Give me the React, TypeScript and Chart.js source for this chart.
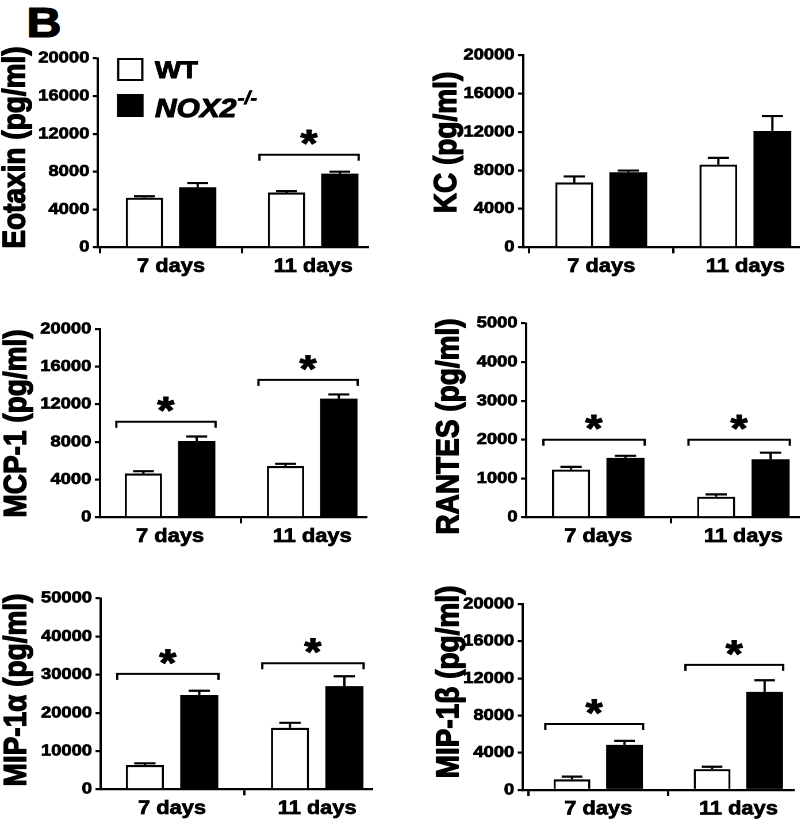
import React, { useEffect, useRef } from 'react';
import { Chart, registerables } from 'chart.js';

Chart.register(...registerables);

// ---------------- data ----------------
const categories = ['7 days', '11 days'];
const seriesLabels = ['WT', 'NOX2-/-'];

const eotaxinWT = [5250, 5800];
const eotaxinWTErr = [150, 150];
const eotaxinKO = [6350, 7800];
const eotaxinKOErr = [450, 200];
const eotaxinSig = [null, 9800];

const kcWT = [6750, 8600];
const kcWTErr = [620, 700];
const kcKO = [7800, 12100];
const kcKOErr = [180, 1550];
const kcSig = [null, null];

const mcp1WT = [4650, 5450];
const mcp1WTErr = [250, 230];
const mcp1KO = [8100, 12600];
const mcp1KOErr = [480, 450];
const mcp1Sig = [10150, 14600];

const rantesWT = [1230, 530];
const rantesWTErr = [70, 60];
const rantesKO = [1530, 1495];
const rantesKOErr = [55, 170];
const rantesSig = [2000, 2000];

const mip1aWT = [6350, 16100];
const mip1aWTErr = [450, 1300];
const mip1aKO = [24700, 27000];
const mip1aKOErr = [1100, 2600];
const mip1aSig = [30200, 33000];

const mip1bWT = [1150, 2250];
const mip1bWTErr = [290, 250];
const mip1bKO = [4850, 10550];
const mip1bKOErr = [430, 1250];
const mip1bSig = [7100, 13450];

const yTitles = ['Eotaxin (pg/ml)', 'KC (pg/ml)', 'MCP-1 (pg/ml)', 'RANTES (pg/ml)', 'MIP-1α (pg/ml)', 'MIP-1β (pg/ml)'];
const yMaxima = [20000, 20000, 20000, 5000, 50000, 20000];
const yTickSteps = [4000, 4000, 4000, 1000, 10000, 4000];

const panels = [
  { means: [eotaxinWT, eotaxinKO], errs: [eotaxinWTErr, eotaxinKOErr], sig: eotaxinSig },
  { means: [kcWT, kcKO], errs: [kcWTErr, kcKOErr], sig: kcSig },
  { means: [mcp1WT, mcp1KO], errs: [mcp1WTErr, mcp1KOErr], sig: mcp1Sig },
  { means: [rantesWT, rantesKO], errs: [rantesWTErr, rantesKOErr], sig: rantesSig },
  { means: [mip1aWT, mip1aKO], errs: [mip1aWTErr, mip1aKOErr], sig: mip1aSig },
  { means: [mip1bWT, mip1bKO], errs: [mip1bWTErr, mip1bKOErr], sig: mip1bSig },
];

// ---------------- layout & style ----------------
const S = 1.15; // horizontal stretch of the whole figure
const FONT = '"Liberation Sans", Arial, Helvetica, sans-serif';
const barColors = ['#ffffff', '#000000'];
const TEXT_STROKE = 0.7;

type Layout = {
  cx: number; cy: number; cw: number; ch: number;
  axisX: number; top: number; zero: number; right: number;
  c7: number; c11: number; titleBase: number; titleY: number;
};

// all values in page pixels
const layouts: Layout[] = [
  { cx: 0, cy: 0, cw: 400, ch: 290, axisX: 98, top: 58.3, zero: 247.3, right: 368, c7: 171, c11: 313, titleBase: 25, titleY: 147.5 },
  { cx: 400, cy: 0, cw: 400, ch: 290, axisX: 523, top: 55, zero: 247.3, right: 800, c7: 601, c11: 745, titleBase: 456, titleY: 142.5 },
  { cx: 0, cy: 290, cw: 400, ch: 270, axisX: 100, top: 329, zero: 517.3, right: 366, c7: 170, c11: 312, titleBase: 26, titleY: 423.5 },
  { cx: 400, cy: 290, cw: 400, ch: 270, axisX: 526, top: 323.3, zero: 517.3, right: 800, c7: 598, c11: 743, titleBase: 458, titleY: 426.5 },
  { cx: 0, cy: 560, cw: 400, ch: 265, axisX: 100.7, top: 598.3, zero: 789.3, right: 372, c7: 172, c11: 317, titleBase: 26, titleY: 690 },
  { cx: 400, cy: 560, cw: 400, ch: 265, axisX: 522.7, top: 604, zero: 790, right: 793, c7: 598, c11: 738, titleBase: 458, titleY: 682 },
];

function boldText(ctx: CanvasRenderingContext2D, text: string, x: number, y: number, stroke: number) {
  ctx.fillText(text, x, y);
  if (stroke > 0) {
    ctx.lineWidth = stroke;
    ctx.strokeStyle = '#000';
    ctx.lineJoin = 'round';
    ctx.strokeText(text, x, y);
  }
}

function drawStar(ctx: CanvasRenderingContext2D, cx: number, cy: number) {
  ctx.save();
  ctx.font = `bold 38px ${FONT}`;
  ctx.fillStyle = '#000';
  ctx.textAlign = 'left';
  ctx.textBaseline = 'alphabetic';
  const m = ctx.measureText('*');
  const x = cx - (m.actualBoundingBoxRight - m.actualBoundingBoxLeft) / 2;
  const y = cy + (m.actualBoundingBoxAscent - m.actualBoundingBoxDescent) / 2;
  boldText(ctx, '*', x, y, 1);
  ctx.restore();
}

function makeConfig(index: number): any {
  const L = layouts[index];
  const P = panels[index];
  const spacing = L.c11 - L.c7;
  const xMin = 1 - (L.c7 - L.axisX) / spacing;
  const xMax = 2 + (L.right - L.c11) / spacing;

  const extras = {
    id: 'panelExtras',
    afterDatasetsDraw(chart: any) {
      const ctx: CanvasRenderingContext2D = chart.ctx;
      const xS = chart.scales.x;
      const yS = chart.scales.y;
      ctx.save();
      ctx.strokeStyle = '#000';
      // error bars (upper only)
      P.means.forEach((vals, d) => {
        const meta = chart.getDatasetMeta(d);
        meta.data.forEach((bar: any, i: number) => {
          const p = bar.getProps(['x', 'y', 'width'], true);
          const yTop = yS.getPixelForValue(vals[i] + P.errs[d][i]);
          const hw = p.width * 0.28;
          ctx.lineWidth = 2;
          ctx.beginPath();
          ctx.moveTo(p.x, p.y);
          ctx.lineTo(p.x, yTop);
          ctx.stroke();
          ctx.lineWidth = 2.2;
          ctx.beginPath();
          ctx.moveTo(p.x - hw, yTop);
          ctx.lineTo(p.x + hw, yTop);
          ctx.stroke();
        });
      });
      // significance brackets
      P.sig.forEach((val, i) => {
        if (val == null) return;
        const pos = i + 1;
        const x1 = xS.getPixelForValue(pos - 0.378);
        const x2 = xS.getPixelForValue(pos + 0.32);
        const y = yS.getPixelForValue(val);
        ctx.lineWidth = 2;
        ctx.beginPath();
        ctx.moveTo(x1, y + 6);
        ctx.lineTo(x1, y);
        ctx.lineTo(x2, y);
        ctx.lineTo(x2, y + 6);
        ctx.stroke();
        drawStar(ctx, (x1 + x2) / 2, y - 18);
      });
      ctx.restore();
    },
    afterDraw(chart: any) {
      const ctx: CanvasRenderingContext2D = chart.ctx;
      ctx.save();
      // y-axis title
      ctx.font = `bold 28px ${FONT}`;
      ctx.fillStyle = '#000';
      ctx.textAlign = 'center';
      ctx.textBaseline = 'alphabetic';
      ctx.translate((L.titleBase - L.cx) / S, L.titleY - L.cy);
      ctx.rotate(-Math.PI / 2);
      boldText(ctx, yTitles[index], 0, 0, 1.1);
      ctx.restore();

      if (index === 0) {
        // legend
        const boxX = (117 - L.cx) / S;
        const boxW = 23;
        const boxH = 23;
        const rowTops = [58, 94];
        const baselines = [78, 117];
        const textX = (155 - L.cx) / S;
        chart.data.datasets.forEach((ds: any, d: number) => {
          ctx.save();
          const ty = rowTops[d] - L.cy;
          ctx.fillStyle = ds.backgroundColor;
          ctx.fillRect(boxX, ty, boxW, boxH);
          ctx.strokeStyle = '#000';
          ctx.lineWidth = 2;
          ctx.strokeRect(boxX + 1, ty + 1, boxW - 2, boxH - 2);
          ctx.fillStyle = '#000';
          ctx.textAlign = 'left';
          ctx.textBaseline = 'alphabetic';
          const label: string = ds.label;
          const m = label.match(/^(.*?)(-\/-)$/);
          const by = baselines[d] - L.cy;
          if (m) {
            ctx.font = `italic bold 26px ${FONT}`;
            boldText(ctx, m[1], textX, by, 1);
            const w = ctx.measureText(m[1]).width;
            ctx.font = `italic bold 18px ${FONT}`;
            boldText(ctx, m[2], textX + w + 1, by - 13, 0.7);
          } else {
            ctx.font = `bold 24px ${FONT}`;
            boldText(ctx, label, textX, by, 1);
          }
          ctx.restore();
        });
      }
    },
  };

  return {
    type: 'bar',
    data: {
      datasets: P.means.map((vals, d) => ({
        label: seriesLabels[d],
        data: vals.map((v, i) => ({ x: i + 1, y: v })),
        backgroundColor: barColors[d],
        borderColor: '#000',
        borderWidth: d === 0 ? { left: 1.9, right: 1.9, top: 2.2, bottom: 0 } : 0,
        borderSkipped: 'start',
        categoryPercentage: 0.75,
        barPercentage: 0.7,
      })),
    },
    options: {
      animation: false,
      responsive: false,
      devicePixelRatio: 2,
      events: [],
      layout: { padding: { left: 0, top: L.top - L.cy, right: (L.cx + L.cw - L.right) / S, bottom: 0 } },
      plugins: { legend: { display: false }, tooltip: { enabled: false }, title: { display: false } },
      scales: {
        x: {
          type: 'linear',
          min: xMin,
          max: xMax,
          offset: false,
          afterFit: (s: any) => { s.height = L.cy + L.ch - L.zero; },
          afterBuildTicks: (s: any) => { s.ticks = categories.map((_, i) => ({ value: i + 1 })); },
          ticks: {
            color: '#000',
            font: { family: FONT, size: 19, weight: 'bold' },
            padding: 2,
            autoSkip: false,
            maxRotation: 0,
            textStrokeColor: '#000',
            textStrokeWidth: TEXT_STROKE,
            callback: (_v: any, i: number) => categories[i],
          },
          grid: { display: true, drawOnChartArea: false, drawTicks: true, tickLength: 6, color: '#000', lineWidth: 2 },
          border: { display: true, color: '#000', width: 2.2 },
        },
        y: {
          min: 0,
          max: yMaxima[index],
          afterFit: (s: any) => { s.width = (L.axisX - L.cx) / S; },
          ticks: {
            stepSize: yTickSteps[index],
            color: '#000',
            font: { family: FONT, size: 16, weight: 'bold' },
            padding: 3,
            textStrokeColor: '#000',
            textStrokeWidth: TEXT_STROKE,
            callback: (v: any) => String(v),
          },
          grid: { display: true, drawOnChartArea: false, drawTicks: true, tickLength: 4.5, color: '#000', lineWidth: 2.2 },
          border: { display: true, color: '#000', width: 2 },
        },
      },
    },
    plugins: [extras],
  };
}

function Panel({ index }: { index: number }) {
  const ref = useRef<HTMLCanvasElement>(null);
  const L = layouts[index];
  useEffect(() => {
    const chart = new Chart(ref.current as HTMLCanvasElement, makeConfig(index));
    return () => chart.destroy();
  }, [index]);
  const w = Math.round(L.cw / S);
  return (
    <canvas
      ref={ref}
      width={w}
      height={L.ch}
      style={{ position: 'absolute', left: L.cx / S, top: L.cy, width: w, height: L.ch }}
    />
  );
}

export default function App() {
  return (
    <div
      style={{
        position: 'absolute',
        left: 0,
        top: 0,
        width: 800 / S,
        height: 825,
        transform: `scaleX(${S})`,
        transformOrigin: '0 0',
        background: '#fff',
        overflow: 'hidden',
      }}
    >
      <div
        style={{
          position: 'absolute',
          left: 23,
          top: 1.5,
          fontFamily: FONT,
          fontWeight: 'bold',
          fontSize: 42,
          lineHeight: '42px',
          color: '#000',
          WebkitTextStroke: '1.2px #000',
        }}
      >
        B
      </div>
      {panels.map((_, i) => (
        <Panel key={i} index={i} />
      ))}
    </div>
  );
}
